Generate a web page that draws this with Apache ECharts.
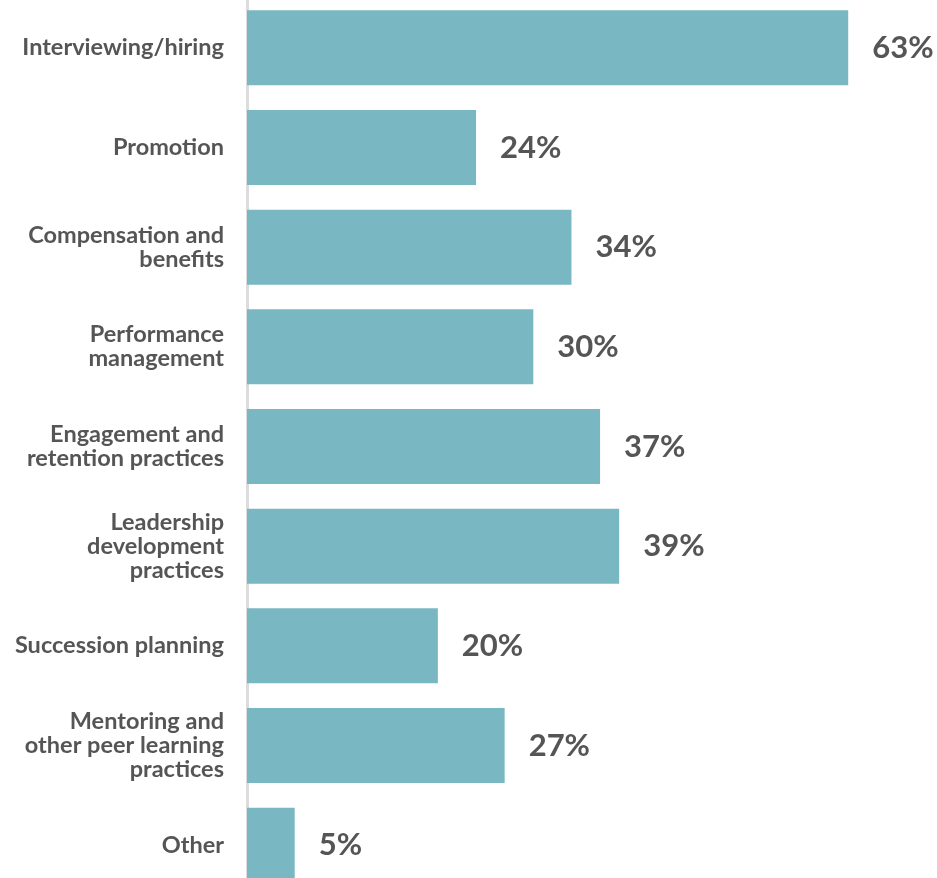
<!DOCTYPE html>
<html>
<head>
<meta charset="utf-8">
<script src="https://cdn.jsdelivr.net/npm/echarts@6/dist/echarts.min.js"></script>
<style>
  html, body { margin: 0; padding: 0; background: #fff; }
  #chart { width: 937px; height: 878px; }
</style>
</head>
<body>
<div id="chart"></div>
<script>
  // categories, top to bottom
  var categories = [
    'Interviewing/hiring',
    'Promotion',
    'Compensation and\nbenefits',
    'Performance\nmanagement',
    'Engagement and\nretention practices',
    'Leadership\ndevelopment\npractices',
    'Succession planning',
    'Mentoring and\nother peer learning\npractices',
    'Other'
  ];
  // percent of respondents
  var values = [63, 24, 34, 30, 37, 39, 20, 27, 5];

  var myChart = echarts.init(document.getElementById('chart'));
  myChart.setOption({
    animation: false,
    grid: {
      left: 247,
      right: 22,
      top: -2,
      height: 897,
      outerBoundsMode: 'none',
      containLabel: false
    },
    xAxis: {
      type: 'value',
      min: 0,
      max: 70,
      show: false
    },
    yAxis: {
      type: 'category',
      inverse: true,
      data: categories,
      offset: 3,
      axisLine: { show: true, lineStyle: { color: '#dcdcdc', width: 3 } },
      axisTick: { show: false },
      axisLabel: {
        margin: 20,
        color: '#555',
        fontFamily: 'Lato',
        fontWeight: 'bold',
        fontSize: 23.5,
        lineHeight: 24,
        align: 'right'
      }
    },
    series: [{
      type: 'bar',
      data: values,
      barWidth: 75,
      itemStyle: { color: '#79b7c3' },
      label: {
        show: true,
        position: 'right',
        distance: 24,
        formatter: '{c}%',
        color: '#555',
        fontFamily: 'Lato',
        fontWeight: 'bold',
        fontSize: 31
      }
    }]
  });
</script>
</body>
</html>
